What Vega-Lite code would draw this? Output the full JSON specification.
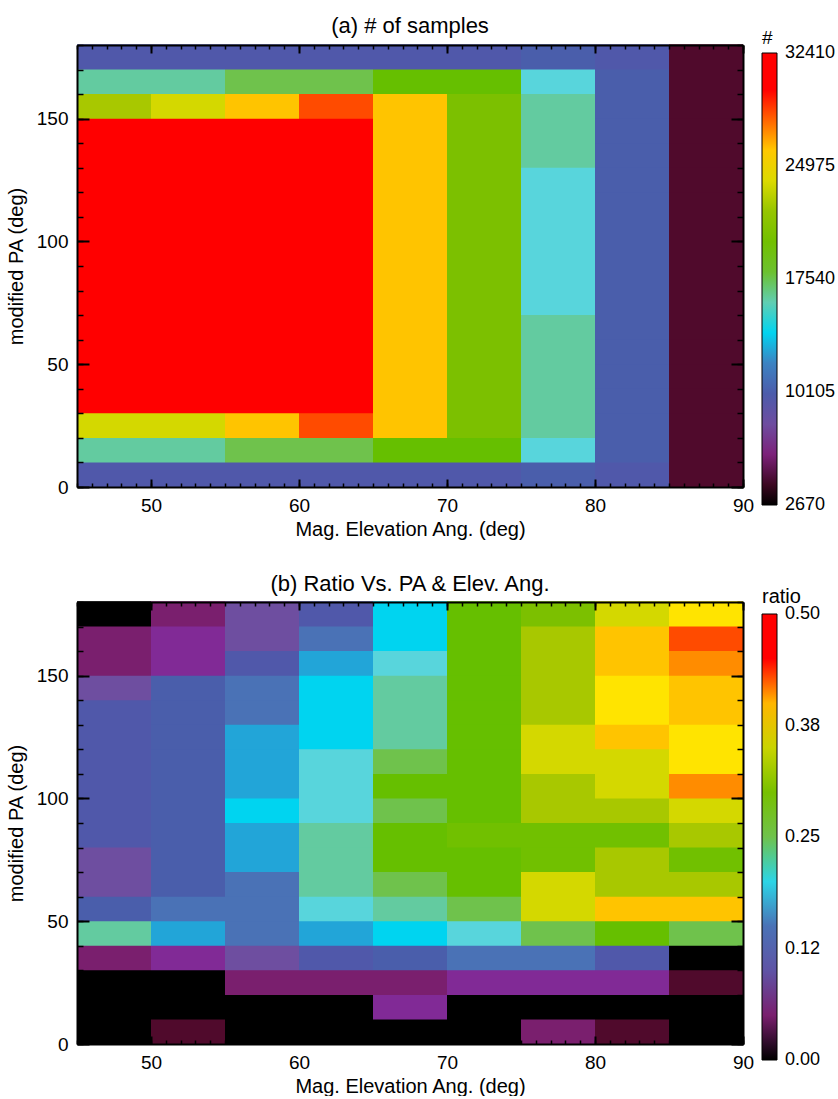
{
  "$schema": "https://vega.github.io/schema/vega-lite/v6.json",
  "padding": {"left": 6, "top": 15, "right": 0, "bottom": 0},
  "spacing": 34,
  "resolve": {"scale": {"color": "independent"}, "legend": {"color": "independent"}},
  "datasets": {
    "a": [
      {"x":45,"x2":50,"y":0,"y2":10,"n":9213},{"x":45,"x2":50,"y":10,"y2":20,"n":16350},{"x":45,"x2":50,"y":20,"y2":30,"n":23785},{"x":45,"x2":50,"y":30,"y2":40,"n":32410},{"x":45,"x2":50,"y":40,"y2":50,"n":32410},{"x":45,"x2":50,"y":50,"y2":60,"n":32410},{"x":45,"x2":50,"y":60,"y2":70,"n":32410},{"x":45,"x2":50,"y":70,"y2":80,"n":32410},{"x":45,"x2":50,"y":80,"y2":90,"n":32410},{"x":45,"x2":50,"y":90,"y2":100,"n":32410},{"x":45,"x2":50,"y":100,"y2":110,"n":32410},{"x":45,"x2":50,"y":110,"y2":120,"n":32410},{"x":45,"x2":50,"y":120,"y2":130,"n":32410},{"x":45,"x2":50,"y":130,"y2":140,"n":32410},{"x":45,"x2":50,"y":140,"y2":150,"n":32410},{"x":45,"x2":50,"y":150,"y2":160,"n":22596},{"x":45,"x2":50,"y":160,"y2":170,"n":16350},{"x":45,"x2":50,"y":170,"y2":180,"n":9213},
      {"x":50,"x2":55,"y":0,"y2":10,"n":9213},{"x":50,"x2":55,"y":10,"y2":20,"n":16350},{"x":50,"x2":55,"y":20,"y2":30,"n":23785},{"x":50,"x2":55,"y":30,"y2":40,"n":32410},{"x":50,"x2":55,"y":40,"y2":50,"n":32410},{"x":50,"x2":55,"y":50,"y2":60,"n":32410},{"x":50,"x2":55,"y":60,"y2":70,"n":32410},{"x":50,"x2":55,"y":70,"y2":80,"n":32410},{"x":50,"x2":55,"y":80,"y2":90,"n":32410},{"x":50,"x2":55,"y":90,"y2":100,"n":32410},{"x":50,"x2":55,"y":100,"y2":110,"n":32410},{"x":50,"x2":55,"y":110,"y2":120,"n":32410},{"x":50,"x2":55,"y":120,"y2":130,"n":32410},{"x":50,"x2":55,"y":130,"y2":140,"n":32410},{"x":50,"x2":55,"y":140,"y2":150,"n":32410},{"x":50,"x2":55,"y":150,"y2":160,"n":23785},{"x":50,"x2":55,"y":160,"y2":170,"n":16350},{"x":50,"x2":55,"y":170,"y2":180,"n":9213},
      {"x":55,"x2":60,"y":0,"y2":10,"n":9213},{"x":55,"x2":60,"y":10,"y2":20,"n":17540},{"x":55,"x2":60,"y":20,"y2":30,"n":26165},{"x":55,"x2":60,"y":30,"y2":40,"n":32410},{"x":55,"x2":60,"y":40,"y2":50,"n":32410},{"x":55,"x2":60,"y":50,"y2":60,"n":32410},{"x":55,"x2":60,"y":60,"y2":70,"n":32410},{"x":55,"x2":60,"y":70,"y2":80,"n":32410},{"x":55,"x2":60,"y":80,"y2":90,"n":32410},{"x":55,"x2":60,"y":90,"y2":100,"n":32410},{"x":55,"x2":60,"y":100,"y2":110,"n":32410},{"x":55,"x2":60,"y":110,"y2":120,"n":32410},{"x":55,"x2":60,"y":120,"y2":130,"n":32410},{"x":55,"x2":60,"y":130,"y2":140,"n":32410},{"x":55,"x2":60,"y":140,"y2":150,"n":32410},{"x":55,"x2":60,"y":150,"y2":160,"n":26165},{"x":55,"x2":60,"y":160,"y2":170,"n":17540},{"x":55,"x2":60,"y":170,"y2":180,"n":9213},
      {"x":60,"x2":65,"y":0,"y2":10,"n":9213},{"x":60,"x2":65,"y":10,"y2":20,"n":17540},{"x":60,"x2":65,"y":20,"y2":30,"n":28395},{"x":60,"x2":65,"y":30,"y2":40,"n":32410},{"x":60,"x2":65,"y":40,"y2":50,"n":32410},{"x":60,"x2":65,"y":50,"y2":60,"n":32410},{"x":60,"x2":65,"y":60,"y2":70,"n":32410},{"x":60,"x2":65,"y":70,"y2":80,"n":32410},{"x":60,"x2":65,"y":80,"y2":90,"n":32410},{"x":60,"x2":65,"y":90,"y2":100,"n":32410},{"x":60,"x2":65,"y":100,"y2":110,"n":32410},{"x":60,"x2":65,"y":110,"y2":120,"n":32410},{"x":60,"x2":65,"y":120,"y2":130,"n":32410},{"x":60,"x2":65,"y":130,"y2":140,"n":32410},{"x":60,"x2":65,"y":140,"y2":150,"n":32410},{"x":60,"x2":65,"y":150,"y2":160,"n":28395},{"x":60,"x2":65,"y":160,"y2":170,"n":17540},{"x":60,"x2":65,"y":170,"y2":180,"n":9213},
      {"x":65,"x2":70,"y":0,"y2":10,"n":9213},{"x":65,"x2":70,"y":10,"y2":20,"n":18730},{"x":65,"x2":70,"y":20,"y2":30,"n":26165},{"x":65,"x2":70,"y":30,"y2":40,"n":26165},{"x":65,"x2":70,"y":40,"y2":50,"n":26165},{"x":65,"x2":70,"y":50,"y2":60,"n":26165},{"x":65,"x2":70,"y":60,"y2":70,"n":26165},{"x":65,"x2":70,"y":70,"y2":80,"n":26165},{"x":65,"x2":70,"y":80,"y2":90,"n":26165},{"x":65,"x2":70,"y":90,"y2":100,"n":26165},{"x":65,"x2":70,"y":100,"y2":110,"n":26165},{"x":65,"x2":70,"y":110,"y2":120,"n":26165},{"x":65,"x2":70,"y":120,"y2":130,"n":26165},{"x":65,"x2":70,"y":130,"y2":140,"n":26165},{"x":65,"x2":70,"y":140,"y2":150,"n":26165},{"x":65,"x2":70,"y":150,"y2":160,"n":26165},{"x":65,"x2":70,"y":160,"y2":170,"n":18730},{"x":65,"x2":70,"y":170,"y2":180,"n":9213},
      {"x":70,"x2":75,"y":0,"y2":10,"n":9213},{"x":70,"x2":75,"y":10,"y2":20,"n":18730},{"x":70,"x2":75,"y":20,"y2":30,"n":21109},{"x":70,"x2":75,"y":30,"y2":40,"n":21109},{"x":70,"x2":75,"y":40,"y2":50,"n":21109},{"x":70,"x2":75,"y":50,"y2":60,"n":21109},{"x":70,"x2":75,"y":60,"y2":70,"n":21109},{"x":70,"x2":75,"y":70,"y2":80,"n":21109},{"x":70,"x2":75,"y":80,"y2":90,"n":21109},{"x":70,"x2":75,"y":90,"y2":100,"n":21109},{"x":70,"x2":75,"y":100,"y2":110,"n":21109},{"x":70,"x2":75,"y":110,"y2":120,"n":21109},{"x":70,"x2":75,"y":120,"y2":130,"n":21109},{"x":70,"x2":75,"y":130,"y2":140,"n":21109},{"x":70,"x2":75,"y":140,"y2":150,"n":21109},{"x":70,"x2":75,"y":150,"y2":160,"n":21109},{"x":70,"x2":75,"y":160,"y2":170,"n":18730},{"x":70,"x2":75,"y":170,"y2":180,"n":9213},
      {"x":75,"x2":80,"y":0,"y2":10,"n":10402},{"x":75,"x2":80,"y":10,"y2":20,"n":15161},{"x":75,"x2":80,"y":20,"y2":30,"n":16350},{"x":75,"x2":80,"y":30,"y2":40,"n":16350},{"x":75,"x2":80,"y":40,"y2":50,"n":16350},{"x":75,"x2":80,"y":50,"y2":60,"n":16350},{"x":75,"x2":80,"y":60,"y2":70,"n":16350},{"x":75,"x2":80,"y":70,"y2":80,"n":15161},{"x":75,"x2":80,"y":80,"y2":90,"n":15161},{"x":75,"x2":80,"y":90,"y2":100,"n":15161},{"x":75,"x2":80,"y":100,"y2":110,"n":15161},{"x":75,"x2":80,"y":110,"y2":120,"n":15161},{"x":75,"x2":80,"y":120,"y2":130,"n":15161},{"x":75,"x2":80,"y":130,"y2":140,"n":16350},{"x":75,"x2":80,"y":140,"y2":150,"n":16350},{"x":75,"x2":80,"y":150,"y2":160,"n":16350},{"x":75,"x2":80,"y":160,"y2":170,"n":15161},{"x":75,"x2":80,"y":170,"y2":180,"n":10402},
      {"x":80,"x2":85,"y":0,"y2":10,"n":9213},{"x":80,"x2":85,"y":10,"y2":20,"n":10402},{"x":80,"x2":85,"y":20,"y2":30,"n":10402},{"x":80,"x2":85,"y":30,"y2":40,"n":10402},{"x":80,"x2":85,"y":40,"y2":50,"n":10402},{"x":80,"x2":85,"y":50,"y2":60,"n":10402},{"x":80,"x2":85,"y":60,"y2":70,"n":10402},{"x":80,"x2":85,"y":70,"y2":80,"n":10402},{"x":80,"x2":85,"y":80,"y2":90,"n":10402},{"x":80,"x2":85,"y":90,"y2":100,"n":10402},{"x":80,"x2":85,"y":100,"y2":110,"n":10402},{"x":80,"x2":85,"y":110,"y2":120,"n":10402},{"x":80,"x2":85,"y":120,"y2":130,"n":10402},{"x":80,"x2":85,"y":130,"y2":140,"n":10402},{"x":80,"x2":85,"y":140,"y2":150,"n":10402},{"x":80,"x2":85,"y":150,"y2":160,"n":10402},{"x":80,"x2":85,"y":160,"y2":170,"n":10402},{"x":80,"x2":85,"y":170,"y2":180,"n":9213},
      {"x":85,"x2":90,"y":0,"y2":10,"n":4454},{"x":85,"x2":90,"y":10,"y2":20,"n":4454},{"x":85,"x2":90,"y":20,"y2":30,"n":4454},{"x":85,"x2":90,"y":30,"y2":40,"n":4454},{"x":85,"x2":90,"y":40,"y2":50,"n":4454},{"x":85,"x2":90,"y":50,"y2":60,"n":4454},{"x":85,"x2":90,"y":60,"y2":70,"n":4454},{"x":85,"x2":90,"y":70,"y2":80,"n":4454},{"x":85,"x2":90,"y":80,"y2":90,"n":4454},{"x":85,"x2":90,"y":90,"y2":100,"n":4454},{"x":85,"x2":90,"y":100,"y2":110,"n":4454},{"x":85,"x2":90,"y":110,"y2":120,"n":4454},{"x":85,"x2":90,"y":120,"y2":130,"n":4454},{"x":85,"x2":90,"y":130,"y2":140,"n":4454},{"x":85,"x2":90,"y":140,"y2":150,"n":4454},{"x":85,"x2":90,"y":150,"y2":160,"n":4454},{"x":85,"x2":90,"y":160,"y2":170,"n":4454},{"x":85,"x2":90,"y":170,"y2":180,"n":4454}
    ],
    "b": [
      {"x":45,"x2":50,"y":0,"y2":10,"r":0},{"x":45,"x2":50,"y":10,"y2":20,"r":0},{"x":45,"x2":50,"y":20,"y2":30,"r":0},{"x":45,"x2":50,"y":30,"y2":40,"r":0.05},{"x":45,"x2":50,"y":40,"y2":50,"r":0.23},{"x":45,"x2":50,"y":50,"y2":60,"r":0.13},{"x":45,"x2":50,"y":60,"y2":70,"r":0.09},{"x":45,"x2":50,"y":70,"y2":80,"r":0.09},{"x":45,"x2":50,"y":80,"y2":90,"r":0.11},{"x":45,"x2":50,"y":90,"y2":100,"r":0.11},{"x":45,"x2":50,"y":100,"y2":110,"r":0.11},{"x":45,"x2":50,"y":110,"y2":120,"r":0.11},{"x":45,"x2":50,"y":120,"y2":130,"r":0.11},{"x":45,"x2":50,"y":130,"y2":140,"r":0.11},{"x":45,"x2":50,"y":140,"y2":150,"r":0.09},{"x":45,"x2":50,"y":150,"y2":160,"r":0.05},{"x":45,"x2":50,"y":160,"y2":170,"r":0.05},{"x":45,"x2":50,"y":170,"y2":180,"r":0},
      {"x":50,"x2":55,"y":0,"y2":10,"r":0.03},{"x":50,"x2":55,"y":10,"y2":20,"r":0},{"x":50,"x2":55,"y":20,"y2":30,"r":0},{"x":50,"x2":55,"y":30,"y2":40,"r":0.07},{"x":50,"x2":55,"y":40,"y2":50,"r":0.17},{"x":50,"x2":55,"y":50,"y2":60,"r":0.15},{"x":50,"x2":55,"y":60,"y2":70,"r":0.13},{"x":50,"x2":55,"y":70,"y2":80,"r":0.13},{"x":50,"x2":55,"y":80,"y2":90,"r":0.13},{"x":50,"x2":55,"y":90,"y2":100,"r":0.13},{"x":50,"x2":55,"y":100,"y2":110,"r":0.13},{"x":50,"x2":55,"y":110,"y2":120,"r":0.13},{"x":50,"x2":55,"y":120,"y2":130,"r":0.13},{"x":50,"x2":55,"y":130,"y2":140,"r":0.13},{"x":50,"x2":55,"y":140,"y2":150,"r":0.13},{"x":50,"x2":55,"y":150,"y2":160,"r":0.07},{"x":50,"x2":55,"y":160,"y2":170,"r":0.07},{"x":50,"x2":55,"y":170,"y2":180,"r":0.05},
      {"x":55,"x2":60,"y":0,"y2":10,"r":0},{"x":55,"x2":60,"y":10,"y2":20,"r":0},{"x":55,"x2":60,"y":20,"y2":30,"r":0.05},{"x":55,"x2":60,"y":30,"y2":40,"r":0.09},{"x":55,"x2":60,"y":40,"y2":50,"r":0.15},{"x":55,"x2":60,"y":50,"y2":60,"r":0.15},{"x":55,"x2":60,"y":60,"y2":70,"r":0.15},{"x":55,"x2":60,"y":70,"y2":80,"r":0.17},{"x":55,"x2":60,"y":80,"y2":90,"r":0.17},{"x":55,"x2":60,"y":90,"y2":100,"r":0.19},{"x":55,"x2":60,"y":100,"y2":110,"r":0.17},{"x":55,"x2":60,"y":110,"y2":120,"r":0.17},{"x":55,"x2":60,"y":120,"y2":130,"r":0.17},{"x":55,"x2":60,"y":130,"y2":140,"r":0.15},{"x":55,"x2":60,"y":140,"y2":150,"r":0.15},{"x":55,"x2":60,"y":150,"y2":160,"r":0.11},{"x":55,"x2":60,"y":160,"y2":170,"r":0.09},{"x":55,"x2":60,"y":170,"y2":180,"r":0.09},
      {"x":60,"x2":65,"y":0,"y2":10,"r":0},{"x":60,"x2":65,"y":10,"y2":20,"r":0},{"x":60,"x2":65,"y":20,"y2":30,"r":0.05},{"x":60,"x2":65,"y":30,"y2":40,"r":0.11},{"x":60,"x2":65,"y":40,"y2":50,"r":0.17},{"x":60,"x2":65,"y":50,"y2":60,"r":0.21},{"x":60,"x2":65,"y":60,"y2":70,"r":0.23},{"x":60,"x2":65,"y":70,"y2":80,"r":0.23},{"x":60,"x2":65,"y":80,"y2":90,"r":0.23},{"x":60,"x2":65,"y":90,"y2":100,"r":0.21},{"x":60,"x2":65,"y":100,"y2":110,"r":0.21},{"x":60,"x2":65,"y":110,"y2":120,"r":0.21},{"x":60,"x2":65,"y":120,"y2":130,"r":0.19},{"x":60,"x2":65,"y":130,"y2":140,"r":0.19},{"x":60,"x2":65,"y":140,"y2":150,"r":0.19},{"x":60,"x2":65,"y":150,"y2":160,"r":0.17},{"x":60,"x2":65,"y":160,"y2":170,"r":0.15},{"x":60,"x2":65,"y":170,"y2":180,"r":0.11},
      {"x":65,"x2":70,"y":0,"y2":10,"r":0},{"x":65,"x2":70,"y":10,"y2":20,"r":0.07},{"x":65,"x2":70,"y":20,"y2":30,"r":0.05},{"x":65,"x2":70,"y":30,"y2":40,"r":0.13},{"x":65,"x2":70,"y":40,"y2":50,"r":0.19},{"x":65,"x2":70,"y":50,"y2":60,"r":0.23},{"x":65,"x2":70,"y":60,"y2":70,"r":0.25},{"x":65,"x2":70,"y":70,"y2":80,"r":0.27},{"x":65,"x2":70,"y":80,"y2":90,"r":0.27},{"x":65,"x2":70,"y":90,"y2":100,"r":0.25},{"x":65,"x2":70,"y":100,"y2":110,"r":0.27},{"x":65,"x2":70,"y":110,"y2":120,"r":0.25},{"x":65,"x2":70,"y":120,"y2":130,"r":0.23},{"x":65,"x2":70,"y":130,"y2":140,"r":0.23},{"x":65,"x2":70,"y":140,"y2":150,"r":0.23},{"x":65,"x2":70,"y":150,"y2":160,"r":0.21},{"x":65,"x2":70,"y":160,"y2":170,"r":0.19},{"x":65,"x2":70,"y":170,"y2":180,"r":0.19},
      {"x":70,"x2":75,"y":0,"y2":10,"r":0},{"x":70,"x2":75,"y":10,"y2":20,"r":0},{"x":70,"x2":75,"y":20,"y2":30,"r":0.07},{"x":70,"x2":75,"y":30,"y2":40,"r":0.15},{"x":70,"x2":75,"y":40,"y2":50,"r":0.21},{"x":70,"x2":75,"y":50,"y2":60,"r":0.25},{"x":70,"x2":75,"y":60,"y2":70,"r":0.27},{"x":70,"x2":75,"y":70,"y2":80,"r":0.27},{"x":70,"x2":75,"y":80,"y2":90,"r":0.29},{"x":70,"x2":75,"y":90,"y2":100,"r":0.27},{"x":70,"x2":75,"y":100,"y2":110,"r":0.27},{"x":70,"x2":75,"y":110,"y2":120,"r":0.27},{"x":70,"x2":75,"y":120,"y2":130,"r":0.27},{"x":70,"x2":75,"y":130,"y2":140,"r":0.27},{"x":70,"x2":75,"y":140,"y2":150,"r":0.27},{"x":70,"x2":75,"y":150,"y2":160,"r":0.27},{"x":70,"x2":75,"y":160,"y2":170,"r":0.27},{"x":70,"x2":75,"y":170,"y2":180,"r":0.27},
      {"x":75,"x2":80,"y":0,"y2":10,"r":0.05},{"x":75,"x2":80,"y":10,"y2":20,"r":0},{"x":75,"x2":80,"y":20,"y2":30,"r":0.07},{"x":75,"x2":80,"y":30,"y2":40,"r":0.15},{"x":75,"x2":80,"y":40,"y2":50,"r":0.25},{"x":75,"x2":80,"y":50,"y2":60,"r":0.355},{"x":75,"x2":80,"y":60,"y2":70,"r":0.355},{"x":75,"x2":80,"y":70,"y2":80,"r":0.29},{"x":75,"x2":80,"y":80,"y2":90,"r":0.29},{"x":75,"x2":80,"y":90,"y2":100,"r":0.335},{"x":75,"x2":80,"y":100,"y2":110,"r":0.335},{"x":75,"x2":80,"y":110,"y2":120,"r":0.355},{"x":75,"x2":80,"y":120,"y2":130,"r":0.355},{"x":75,"x2":80,"y":130,"y2":140,"r":0.335},{"x":75,"x2":80,"y":140,"y2":150,"r":0.335},{"x":75,"x2":80,"y":150,"y2":160,"r":0.335},{"x":75,"x2":80,"y":160,"y2":170,"r":0.335},{"x":75,"x2":80,"y":170,"y2":180,"r":0.31},
      {"x":80,"x2":85,"y":0,"y2":10,"r":0.03},{"x":80,"x2":85,"y":10,"y2":20,"r":0},{"x":80,"x2":85,"y":20,"y2":30,"r":0.07},{"x":80,"x2":85,"y":30,"y2":40,"r":0.11},{"x":80,"x2":85,"y":40,"y2":50,"r":0.27},{"x":80,"x2":85,"y":50,"y2":60,"r":0.395},{"x":80,"x2":85,"y":60,"y2":70,"r":0.335},{"x":80,"x2":85,"y":70,"y2":80,"r":0.335},{"x":80,"x2":85,"y":80,"y2":90,"r":0.29},{"x":80,"x2":85,"y":90,"y2":100,"r":0.335},{"x":80,"x2":85,"y":100,"y2":110,"r":0.355},{"x":80,"x2":85,"y":110,"y2":120,"r":0.355},{"x":80,"x2":85,"y":120,"y2":130,"r":0.395},{"x":80,"x2":85,"y":130,"y2":140,"r":0.375},{"x":80,"x2":85,"y":140,"y2":150,"r":0.375},{"x":80,"x2":85,"y":150,"y2":160,"r":0.395},{"x":80,"x2":85,"y":160,"y2":170,"r":0.395},{"x":80,"x2":85,"y":170,"y2":180,"r":0.355},
      {"x":85,"x2":90,"y":0,"y2":10,"r":0},{"x":85,"x2":90,"y":10,"y2":20,"r":0},{"x":85,"x2":90,"y":20,"y2":30,"r":0.03},{"x":85,"x2":90,"y":30,"y2":40,"r":0},{"x":85,"x2":90,"y":40,"y2":50,"r":0.25},{"x":85,"x2":90,"y":50,"y2":60,"r":0.395},{"x":85,"x2":90,"y":60,"y2":70,"r":0.335},{"x":85,"x2":90,"y":70,"y2":80,"r":0.29},{"x":85,"x2":90,"y":80,"y2":90,"r":0.335},{"x":85,"x2":90,"y":90,"y2":100,"r":0.355},{"x":85,"x2":90,"y":100,"y2":110,"r":0.415},{"x":85,"x2":90,"y":110,"y2":120,"r":0.375},{"x":85,"x2":90,"y":120,"y2":130,"r":0.375},{"x":85,"x2":90,"y":130,"y2":140,"r":0.395},{"x":85,"x2":90,"y":140,"y2":150,"r":0.395},{"x":85,"x2":90,"y":150,"y2":160,"r":0.415},{"x":85,"x2":90,"y":160,"y2":170,"r":0.4325},{"x":85,"x2":90,"y":170,"y2":180,"r":0.375}
    ]
  },
  "vconcat": [
    {
      "width": 666,
      "height": 442,
      "title": {"text": "(a) # of samples", "fontSize": 22, "font": "Liberation Sans", "fontWeight": "normal", "offset": -9, "frame": "group", "anchor": "middle", "color": "black"},
      "data": {"name": "a"},
      "layer": [
        {
          "mark": {"type": "rect", "y2Offset": -0.8},
          "encoding": {
            "x": {"field": "x", "type": "quantitative", "scale": {"domain": [45, 90], "nice": false, "zero": false},
                  "axis": {"orient": "bottom", "zindex": 2, "values": [50, 60, 70, 80, 90], "tickSize": -8, "tickWidth": 2, "labelPadding": 17, "labelFlush": false, "domainWidth": 2, "title": "Mag. Elevation Ang. (deg)", "titlePadding": 4}},
            "x2": {"field": "x2"},
            "y": {"field": "y", "type": "quantitative", "scale": {"domain": [0, 180], "nice": false, "zero": false},
                  "axis": {"orient": "left", "zindex": 2, "values": [0, 50, 100, 150], "tickSize": -12, "tickWidth": 2, "labelPadding": 21, "domainWidth": 2, "title": "modified PA (deg)", "titlePadding": 10}},
            "y2": {"field": "y2"},
            "color": {"field": "n", "type": "quantitative",
                      "scale": {"type": "linear", "nice": false, "zero": false, "interpolate": "rgb",
                                "domain": [2670, 4454.4, 5644, 6833.6, 8023.2, 9212.8, 10402.4, 11592, 12781.6, 13971.2, 15160.8, 16350.4, 17540, 18729.6, 21108.8, 22595.8, 23785.4, 24975, 26164.6, 27354.2, 28395.1, 29436, 32410],
                                "range": ["#000000","#500a2c","#7a1f6e","#812a96","#6e4ea0","#5058aa","#4a5eab","#4a72b6","#22a5d8","#00d4f0","#58d5dc","#63cba0","#6fc24c","#66bf00","#7cc000","#a8c800","#d4d800","#ffe400","#ffc400","#ff8c00","#ff4b00","#ff0000","#ff0000"]},
                      "legend": {"orient": "none", "legendX": 685, "legendY": -16, "direction": "vertical", "gradientLength": 452, "gradientThickness": 15, "gradientStrokeColor": "black", "gradientStrokeWidth": 1,
                                 "values": [2670, 10105, 17540, 24975, 32410], "format": "d", "labelFont": "Liberation Sans", "labelFontSize": 18, "labelOffset": 8, "labelColor": "black", "labelOverlap": false,
                                 "title": "#", "titleFont": "Liberation Sans", "titleFontSize": 19, "titleFontWeight": "normal", "titleColor": "black", "titlePadding": 5,
                                 "encode": {"labels": {"update": {"baseline": {"value": "middle"}}}}}}
          }
        },
        {
          "mark": {"type": "rect", "opacity": 0},
          "encoding": {
            "x": {"field": "x", "type": "quantitative", "scale": {"domain": [45, 90], "nice": false, "zero": false},
                  "axis": {"orient": "bottom", "zindex": 2, "values": [45,46,47,48,49,50,51,52,53,54,55,56,57,58,59,60,61,62,63,64,65,66,67,68,69,70,71,72,73,74,75,76,77,78,79,80,81,82,83,84,85,86,87,88,89,90], "tickSize": -4, "tickWidth": 1.5, "labels": false, "domain": false, "title": null}},
            "x2": {"field": "x2"},
            "y": {"field": "y", "type": "quantitative", "scale": {"domain": [0, 180], "nice": false, "zero": false},
                  "axis": {"orient": "left", "zindex": 2, "values": [0,10,20,30,40,50,60,70,80,90,100,110,120,130,140,150,160,170,180], "tickSize": -6, "tickWidth": 1.5, "labels": false, "domain": false, "title": null}},
            "y2": {"field": "y2"}
          }
        },
        {
          "mark": {"type": "rect", "opacity": 0},
          "encoding": {
            "x": {"field": "x", "type": "quantitative", "scale": {"domain": [45, 90], "nice": false, "zero": false},
                  "axis": {"orient": "top", "zindex": 2, "values": [50, 60, 70, 80, 90], "tickSize": -8, "tickWidth": 2, "labels": false, "domainWidth": 2, "title": null}},
            "x2": {"field": "x2"},
            "y": {"field": "y", "type": "quantitative", "scale": {"domain": [0, 180], "nice": false, "zero": false},
                  "axis": {"orient": "right", "zindex": 2, "values": [0, 50, 100, 150], "tickSize": -12, "tickWidth": 2, "labels": false, "domainWidth": 2, "title": null}},
            "y2": {"field": "y2"}
          }
        },
        {
          "mark": {"type": "rect", "opacity": 0},
          "encoding": {
            "x": {"field": "x", "type": "quantitative", "scale": {"domain": [45, 90], "nice": false, "zero": false},
                  "axis": {"orient": "top", "zindex": 2, "values": [45,46,47,48,49,50,51,52,53,54,55,56,57,58,59,60,61,62,63,64,65,66,67,68,69,70,71,72,73,74,75,76,77,78,79,80,81,82,83,84,85,86,87,88,89,90], "tickSize": -4, "tickWidth": 1.5, "labels": false, "domain": false, "title": null}},
            "x2": {"field": "x2"},
            "y": {"field": "y", "type": "quantitative", "scale": {"domain": [0, 180], "nice": false, "zero": false},
                  "axis": {"orient": "right", "zindex": 2, "values": [0,10,20,30,40,50,60,70,80,90,100,110,120,130,140,150,160,170,180], "tickSize": -6, "tickWidth": 1.5, "labels": false, "domain": false, "title": null}},
            "y2": {"field": "y2"}
          }
        }
      ],
      "resolve": {"axis": {"x": "independent", "y": "independent"}}
    },
    {
      "width": 666,
      "height": 442,
      "title": {"text": "(b) Ratio Vs. PA & Elev. Ang.", "fontSize": 22, "font": "Liberation Sans", "fontWeight": "normal", "offset": -9, "frame": "group", "anchor": "middle", "color": "black"},
      "data": {"name": "b"},
      "layer": [
        {
          "mark": {"type": "rect", "y2Offset": -0.8},
          "encoding": {
            "x": {"field": "x", "type": "quantitative", "scale": {"domain": [45, 90], "nice": false, "zero": false},
                  "axis": {"orient": "bottom", "zindex": 2, "values": [50, 60, 70, 80, 90], "tickSize": -8, "tickWidth": 2, "labelPadding": 17, "labelFlush": false, "domainWidth": 2, "title": "Mag. Elevation Ang. (deg)", "titlePadding": 4}},
            "x2": {"field": "x2"},
            "y": {"field": "y", "type": "quantitative", "scale": {"domain": [0, 180], "nice": false, "zero": false},
                  "axis": {"orient": "left", "zindex": 2, "values": [0, 50, 100, 150], "tickSize": -12, "tickWidth": 2, "labelPadding": 21, "domainWidth": 2, "title": "modified PA (deg)", "titlePadding": 10}},
            "y2": {"field": "y2"},
            "color": {"field": "r", "type": "quantitative",
                      "scale": {"type": "linear", "nice": false, "zero": false, "interpolate": "rgb",
                                "domain": [0, 0.03, 0.05, 0.07, 0.09, 0.11, 0.13, 0.15, 0.17, 0.19, 0.21, 0.23, 0.25, 0.27, 0.31, 0.335, 0.355, 0.375, 0.395, 0.415, 0.4325, 0.45, 0.5],
                                "range": ["#000000","#500a2c","#7a1f6e","#812a96","#6e4ea0","#5058aa","#4a5eab","#4a72b6","#22a5d8","#00d4f0","#58d5dc","#63cba0","#6fc24c","#66bf00","#7cc000","#a8c800","#d4d800","#ffe400","#ffc400","#ff8c00","#ff4b00","#ff0000","#ff0000"]},
                      "legend": {"orient": "none", "legendX": 685, "legendY": -15, "direction": "vertical", "gradientLength": 446, "gradientThickness": 15, "gradientStrokeColor": "black", "gradientStrokeWidth": 1,
                                 "values": [0, 0.125, 0.25, 0.375, 0.5], "labelExpr": "datum.value == 0.125 ? '0.12' : format(datum.value, '.2f')", "labelFont": "Liberation Sans", "labelFontSize": 18, "labelOffset": 8, "labelColor": "black", "labelOverlap": false,
                                 "title": "ratio", "titleFont": "Liberation Sans", "titleFontSize": 20, "titleFontWeight": "normal", "titleColor": "black", "titlePadding": 7,
                                 "encode": {"labels": {"update": {"baseline": {"value": "middle"}}}}}}
          }
        },
        {
          "mark": {"type": "rect", "opacity": 0},
          "encoding": {
            "x": {"field": "x", "type": "quantitative", "scale": {"domain": [45, 90], "nice": false, "zero": false},
                  "axis": {"orient": "bottom", "zindex": 2, "values": [45,46,47,48,49,50,51,52,53,54,55,56,57,58,59,60,61,62,63,64,65,66,67,68,69,70,71,72,73,74,75,76,77,78,79,80,81,82,83,84,85,86,87,88,89,90], "tickSize": -4, "tickWidth": 1.5, "labels": false, "domain": false, "title": null}},
            "x2": {"field": "x2"},
            "y": {"field": "y", "type": "quantitative", "scale": {"domain": [0, 180], "nice": false, "zero": false},
                  "axis": {"orient": "left", "zindex": 2, "values": [0,10,20,30,40,50,60,70,80,90,100,110,120,130,140,150,160,170,180], "tickSize": -6, "tickWidth": 1.5, "labels": false, "domain": false, "title": null}},
            "y2": {"field": "y2"}
          }
        },
        {
          "mark": {"type": "rect", "opacity": 0},
          "encoding": {
            "x": {"field": "x", "type": "quantitative", "scale": {"domain": [45, 90], "nice": false, "zero": false},
                  "axis": {"orient": "top", "zindex": 2, "values": [50, 60, 70, 80, 90], "tickSize": -8, "tickWidth": 2, "labels": false, "domainWidth": 2, "title": null}},
            "x2": {"field": "x2"},
            "y": {"field": "y", "type": "quantitative", "scale": {"domain": [0, 180], "nice": false, "zero": false},
                  "axis": {"orient": "right", "zindex": 2, "values": [0, 50, 100, 150], "tickSize": -12, "tickWidth": 2, "labels": false, "domainWidth": 2, "title": null}},
            "y2": {"field": "y2"}
          }
        },
        {
          "mark": {"type": "rect", "opacity": 0},
          "encoding": {
            "x": {"field": "x", "type": "quantitative", "scale": {"domain": [45, 90], "nice": false, "zero": false},
                  "axis": {"orient": "top", "zindex": 2, "values": [45,46,47,48,49,50,51,52,53,54,55,56,57,58,59,60,61,62,63,64,65,66,67,68,69,70,71,72,73,74,75,76,77,78,79,80,81,82,83,84,85,86,87,88,89,90], "tickSize": -4, "tickWidth": 1.5, "labels": false, "domain": false, "title": null}},
            "x2": {"field": "x2"},
            "y": {"field": "y", "type": "quantitative", "scale": {"domain": [0, 180], "nice": false, "zero": false},
                  "axis": {"orient": "right", "zindex": 2, "values": [0,10,20,30,40,50,60,70,80,90,100,110,120,130,140,150,160,170,180], "tickSize": -6, "tickWidth": 1.5, "labels": false, "domain": false, "title": null}},
            "y2": {"field": "y2"}
          }
        }
      ],
      "resolve": {"axis": {"x": "independent", "y": "independent"}}
    }
  ],
  "config": {
    "view": {"stroke": null},
    "axis": {"grid": false, "labelFont": "Liberation Sans", "titleFont": "Liberation Sans", "labelFontSize": 19, "titleFontSize": 20, "titleFontWeight": "normal", "labelColor": "black", "titleColor": "black", "tickColor": "black", "domainColor": "black"}
  }
}
